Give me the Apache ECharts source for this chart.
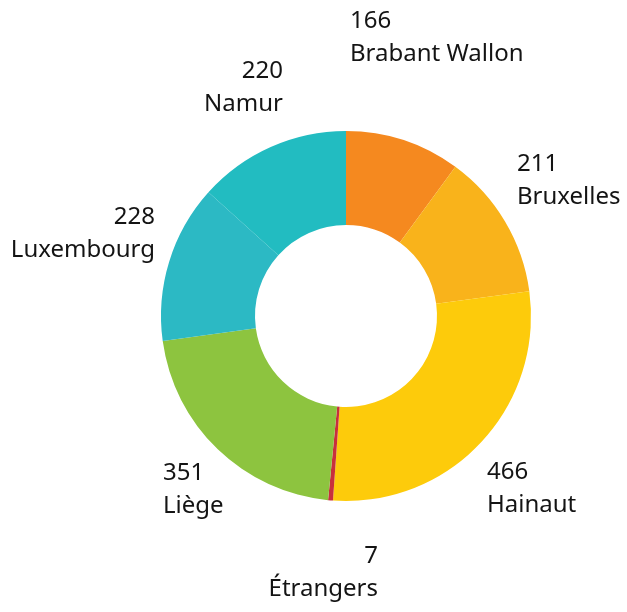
<!DOCTYPE html>
<html lang="fr">

<head>
    <meta charset="UTF-8">
    <title>Répartition par province</title>
    <script src="https://cdn.jsdelivr.net/npm/echarts@6/dist/echarts.min.js"></script>
    <style>
        body {
            margin: 0;
            background: #fff;
        }

        #root {
            width: 627px;
            height: 612px;
        }
    </style>
</head>

<body>

    <div id="root"></div>
    <script>

        // données, dans l'ordre horaire depuis le haut
        var provinces = ['Brabant Wallon', 'Bruxelles', 'Hainaut', 'Étrangers', 'Liège', 'Luxembourg', 'Namur'];
        var effectifs = [166, 211, 466, 7, 351, 228, 220];
        var couleurs = ['#f5891f', '#f9b31b', '#fdcb0b', '#c8303c', '#8dc43f', '#2cb9c4', '#22bcc1'];

        // placement des étiquettes : [x, y du centre du bloc, alignement]
        var etiquettes = [
            [350, 38, 'left'],
            [517, 181, 'left'],
            [487, 489, 'left'],
            [378, 573, 'right'],
            [163, 490, 'left'],
            [155, 234, 'right'],
            [283, 88, 'right']
        ];

        var mychart = echarts.init(document.getElementById("root"));

        mychart.setOption({
            animation: false,
            series: [{
                type: 'pie',
                center: [346, 316],
                radius: [91, 185],
                startAngle: 90,
                clockwise: true,
                silent: true,
                label: {
                    show: true,
                    position: 'outside',
                    formatter: '{c}\n{b}',
                    fontFamily: 'Noto Sans',
                    fontSize: 24,
                    lineHeight: 33,
                    color: '#141414',
                    overflow: 'none'
                },
                labelLine: { show: false },
                labelLayout: function (params) {
                    var e = etiquettes[params.dataIndex];
                    return {
                        x: e[0],
                        y: e[1],
                        align: e[2],
                        verticalAlign: 'middle'
                    };
                },
                data: provinces.map(function (nom, i) {
                    return {
                        name: nom,
                        value: effectifs[i],
                        itemStyle: { color: couleurs[i] }
                    };
                })
            }]
        });

    </script>

</body>

</html>
